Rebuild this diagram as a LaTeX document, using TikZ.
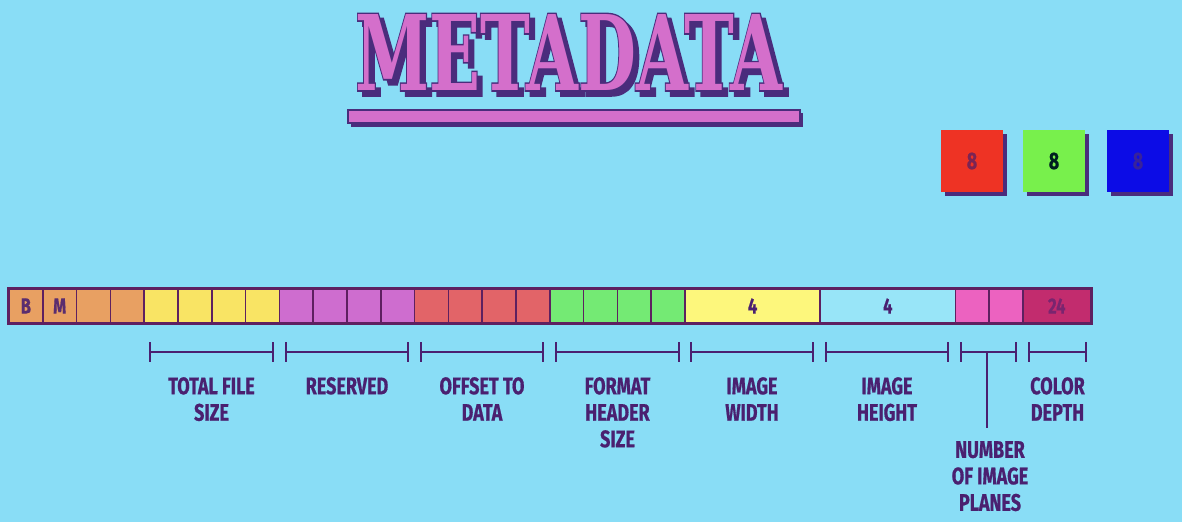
\documentclass[tikz,border=0pt]{standalone}
\usepackage{fontspec}
\usetikzlibrary{shadows,calc}
\newfontfamily\labfont{Fira Sans}[FakeStretch=0.75,FakeBold=0.6]
\newfontfamily\titlefont{DejaVu Serif}
\newfontfamily\titlefontfat{DejaVu Serif}[FakeBold=3]
\definecolor{bgc}{HTML}{89DDF6}
\definecolor{orng}{HTML}{E8A062}
\definecolor{ylw}{HTML}{F9E464}
\definecolor{purp}{HTML}{CE6DCF}
\definecolor{redc}{HTML}{E26468}
\definecolor{grn}{HTML}{74EA74}
\definecolor{ylwb}{HTML}{FDF77C}
\definecolor{lblue}{HTML}{98E5F8}
\definecolor{pinkc}{HTML}{EC62C0}
\definecolor{crim}{HTML}{C22C6E}
\definecolor{brd}{HTML}{5E2060}
\definecolor{labc}{HTML}{4A2070}
\definecolor{ttlpink}{HTML}{D46FCB}
\definecolor{ttldark}{HTML}{4A2C7C}
\definecolor{boxred}{HTML}{EE3324}
\definecolor{boxgrn}{HTML}{78F04C}
\definecolor{boxblu}{HTML}{0C0CE6}
\newcommand\ttlplain{\resizebox{427pt}{76pt}{\titlefont\bfseries METADATA}}
\newcommand\ttlfat{\resizebox{427pt}{76pt}{\titlefontfat\bfseries METADATA}}
\begin{document}
\begin{tikzpicture}[x=1pt,y=-1pt,
  cell/.style={draw=brd,line width=1.6pt,minimum width=33.8pt,minimum height=34pt,inner sep=0pt,
    font=\labfont\bfseries\fontsize{22}{22}\selectfont},
  lab/.style={align=center,anchor=north,inner sep=0pt,text=labc,
    font=\labfont\bfseries\fontsize{24}{26.5}\selectfont},
  brk/.style={draw=labc,line width=2.2pt},
  cbox/.style={minimum width=62pt,minimum height=62pt,inner sep=0pt,
    drop shadow={shadow xshift=4pt,shadow yshift=-4pt,fill=ttldark,opacity=1},
    font=\labfont\bfseries\fontsize{24}{24}\selectfont},
  ttl/.style={anchor=north west,inner sep=0pt}]
\useasboundingbox (0,0) rectangle (1182,522);
\fill[bgc] (0,0) rectangle (1182,522);
% title: dark emboldened shadow and outline, pink letters on top
\node[ttl,text=ttldark] (tshadow) at (360,19) {\ttlfat};
\node[ttl,text=ttldark] (toutline) at (355,14) {\ttlfat};
\node[ttl,text=ttlpink] (title) at (355,14) {\ttlplain};
% underline
\fill[ttldark] (351,113) rectangle (803,127);
\draw[fill=ttlpink,draw=ttldark,line width=1.5pt] (348,110) rectangle (800,123);
% colour boxes
\node[cbox,fill=boxred,text=brd!80!boxred] (rbox) at (972,161) {8};
\node[cbox,fill=boxgrn,text=black!75!teal] (gbox) at (1054,161) {8};
\node[cbox,fill=boxblu,text=ttldark!70!boxblu] (bbox) at (1138,161) {8};
% cells
\foreach \i/\c in {0/orng,1/orng,2/orng,3/orng,4/ylw,5/ylw,6/ylw,7/ylw,
  8/purp,9/purp,10/purp,11/purp,12/redc,13/redc,14/redc,15/redc,
  16/grn,17/grn,18/grn,19/grn,28/pinkc,29/pinkc}
  \node[cell,fill=\c] (c\i) at ({9+33.8*\i+16.9},306) {};
\node[text=labc!90!orng,font=\labfont\bfseries\fontsize{22}{22}\selectfont] at (c0) {B};
\node[text=labc!90!orng,font=\labfont\bfseries\fontsize{22}{22}\selectfont] at (c1) {M};
\node[cell,fill=ylwb,minimum width=135.2pt,text=labc] (wbox) at ({9+33.8*22},306) {4};
\node[cell,fill=lblue,minimum width=135.2pt,text=labc] (hbox) at ({9+33.8*26},306) {4};
\node[cell,fill=crim,minimum width=67.6pt,text=labc!60!crim] (dbox) at ({9+33.8*31},306) {24};
\draw[brd,line width=2.6pt] (c0.north west) rectangle (dbox.south east);
% brackets
\foreach \a/\b in {150/273,286/408,421/543,556/679,691/813,826/948,961/1016,1029/1086}
  \draw[brk] (\a,342) -- (\a,362) (\a,352) -- (\b,352) (\b,342) -- (\b,362);
% labels
\node[lab] (l1) at (211.5,377) {TOTAL FILE\\SIZE};
\node[lab] (l2) at (347,377) {RESERVED};
\node[lab] (l3) at (482,377) {OFFSET TO\\DATA};
\node[lab] (l4) at (617.5,377) {FORMAT\\HEADER\\SIZE};
\node[lab] (l5) at (752,377) {IMAGE\\WIDTH};
\node[lab] (l6) at (887,377) {IMAGE\\HEIGHT};
\node[lab] (l8) at (1057.5,377) {COLOR\\DEPTH};
\node[lab] (l7) at (990,441) {NUMBER\\OF IMAGE\\PLANES};
\coordinate (stemtop) at (987,352);
\coordinate (stembot) at (987,428);
\draw[brk] (stemtop) -- (stembot);
\end{tikzpicture}
\end{document}
